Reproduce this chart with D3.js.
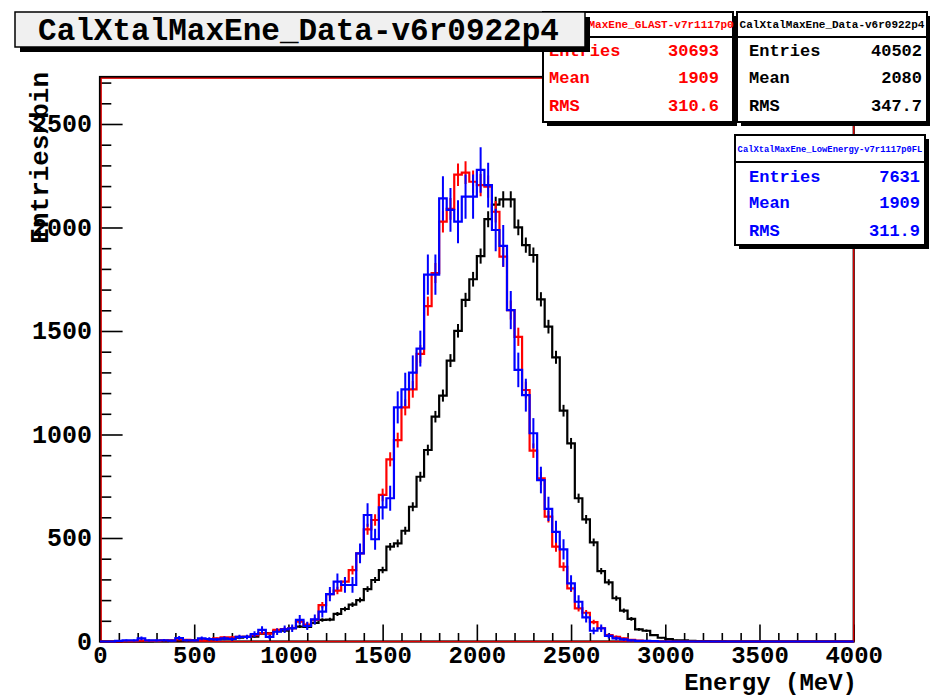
<!DOCTYPE html>
<html><head><meta charset="utf-8">
<script src="https://cdn.jsdelivr.net/npm/d3@7"></script>
<style>
body{margin:0;background:#fff}
svg{display:block}
text{font-family:"Liberation Mono","Courier New",monospace;font-weight:bold}
</style>
</head><body>
<svg id="c" width="930" height="699"></svg>
<script>
// ---- data ----
const binWidth = 40;            // MeV
const xRange = [0, 4000];
const yMax = 2727;
const xMajorTicks = [0,500,1000,1500,2000,2500,3000,3500,4000];
const yMajorTicks = [0,500,1000,1500,2000,2500];
const titleText = "CalXtalMaxEne_Data-v6r0922p4";
const xTitle = "Energy (MeV)";
const yTitle = "Entries/bin";

const blackCounts = [0,0,0,0,1,1,1,2,2,3,
 4,5,6,8,10,12,14,16,18,22,
 24,38,40,50,52,64,72,70,90,104,
 106,133,157,178,200,253,297,345,458,474,
 535,651,796,925,1086,1188,1357,1501,1650,1750,
 1862,2040,2110,2136,2136,2001,1915,1867,1653,1521,
 1373,1115,957,692,590,479,340,286,209,149,
 109,59,52,31,18,12,6,5,3,2,
 2,1,1,0,0,0,0,0,0,0,
 0,0,0,0,0,0,0,0,0,0];
const redCounts = [0,0,0,2,2,4,3,3,5,5,
 10,8,6,8,10,15,20,20,22,22,
 31,40,38,56,60,64,96,82,104,176,
 229,246,289,345,426,542,587,708,880,973,
 1131,1218,1389,1620,1780,2028,2090,2255,2265,2221,
 2205,2197,2076,1859,1601,1472,1215,922,788,603,
 458,361,257,160,139,94,64,31,23,15,
 8,4,2,1,0,0,0,0,0,0,
 0,0,0,0,0,0,0,0,0,0,
 0,0,0,0,0,0,0,0,0,0];
const blueCounts = [0,0,3,5,5,15,5,5,6,4,
 17,6,5,15,12,10,15,12,22,22,
 36,56,22,47,59,64,104,75,107,144,
 229,289,273,273,426,611,494,648,692,1131,
 1218,1299,1415,1772,1772,2141,2085,2028,2149,2149,
 2278,2205,1988,1911,1601,1312,1190,1006,780,641,
 530,445,281,192,117,52,64,27,15,10,
 5,3,3,2,0,0,0,0,0,0,
 0,0,0,0,0,0,0,0,0,0,
 0,0,0,0,0,0,0,0,0,0];
// error-bar variance scale per series (normalisation factors)
const errScale = {black:0.72, red:1.32, blue:5.31};

const statLabels = ["Entries","Mean","RMS"];
const redStats = ["30693","1909","310.6"];
const blackStats = ["40502","2080","347.7"];
const blueStats = ["7631","1909","311.9"];
const redName = "CalXtalMaxEne_GLAST-v7r1117p0";
const blackName = "CalXtalMaxEne_Data-v6r0922p4";
const blueName = "CalXtalMaxEne_LowEnergy-v7r1117p0FL";

// ---- drawing ----
const svg = d3.select("#c");
const L=100, R=853.7, T=77, B=641.5;
const x = d3.scaleLinear().domain(xRange).range([L,R]);
const y = d3.scaleLinear().domain([0,yMax]).range([B,T]);

svg.append("defs").append("clipPath").attr("id","clip")
  .append("rect").attr("x",L-1).attr("y",T).attr("width",R-L+2).attr("height",B-T+2);

// axes ticks
const xMinor = d3.range(0,4001,100).filter(v=>v%500!==0);
const yMinor = d3.range(100,yMax,100).filter(v=>v%500!==0);
const gx = svg.append("g").attr("transform",`translate(0,${B})`)
  .call(d3.axisBottom(x).tickValues(xMajorTicks).tickSize(-17).tickPadding(4).tickFormat(d3.format("d")));
const gxm = svg.append("g").attr("transform",`translate(0,${B})`)
  .call(d3.axisBottom(x).tickValues(xMinor).tickSize(-8.5).tickFormat(""));
const gy = svg.append("g").attr("transform",`translate(${L},0)`)
  .call(d3.axisLeft(y).tickValues(yMajorTicks).tickSize(-22.6).tickPadding(8).tickFormat(d3.format("d")));
const gym = svg.append("g").attr("transform",`translate(${L},0)`)
  .call(d3.axisLeft(y).tickValues(yMinor).tickSize(-11.3).tickFormat(""));
[gx,gxm,gy,gym].forEach(g=>{
  g.select(".domain").remove();
  g.selectAll(".tick line").attr("stroke","#000").attr("stroke-width",1.6);
  g.selectAll("text").attr("fill","#000");
});
gx.selectAll("text").style("font-size","24px");
gy.selectAll("text").style("font-size","25px");

// frame
svg.append("rect").attr("x",L).attr("y",T).attr("width",R-L).attr("height",B-T)
  .attr("fill","none").attr("stroke","#000").attr("stroke-width",2.2);
svg.append("rect").attr("x",L+1.2).attr("y",T+1.2).attr("width",R-L-1.2).attr("height",B-T-1.2)
  .attr("fill","none").attr("stroke","#e00000").attr("stroke-width",1.3);

// histograms
function drawHist(counts,color,es){
  const pts = counts.map((v,i)=>[xRange[0]+i*binWidth, v]);
  pts.push([xRange[0]+counts.length*binWidth, counts[counts.length-1]]);
  const line = d3.line().x(d=>x(d[0])).y(d=>y(d[1])).curve(d3.curveStepAfter);
  const g = svg.append("g").attr("clip-path","url(#clip)");
  g.append("path").attr("d",line(pts)).attr("fill","none")
    .attr("stroke",color).attr("stroke-width",2.2);
  g.selectAll("line.err").data(counts.map((v,i)=>({v,i})).filter(d=>d.v>0))
    .join("line").attr("class","err")
    .attr("x1",d=>x(xRange[0]+(d.i+0.5)*binWidth)).attr("x2",d=>x(xRange[0]+(d.i+0.5)*binWidth))
    .attr("y1",d=>y(d.v-Math.sqrt(d.v*es))).attr("y2",d=>y(d.v+Math.sqrt(d.v*es)))
    .attr("stroke",color).attr("stroke-width",2);
}
drawHist(blackCounts,"#000000",errScale.black);
drawHist(redCounts,"#ff0000",errScale.red);
drawHist(blueCounts,"#0000ff",errScale.blue);

// axis titles
svg.append("text").attr("x",857).attr("y",690).attr("text-anchor","end")
  .style("font-size","24px").text(xTitle);
svg.append("text").attr("transform","translate(48,72) rotate(-90)").attr("text-anchor","end")
  .style("font-size","26px").text(yTitle);

// stats boxes
function statBox(bx,by,w,h,hh,color,name,nameSize,vals,labelX,valX,rowY){
  const g = svg.append("g");
  g.append("rect").attr("x",bx+4).attr("y",by+4).attr("width",w).attr("height",h).attr("fill","#000");
  g.append("rect").attr("x",bx).attr("y",by).attr("width",w).attr("height",h)
    .attr("fill","#fff").attr("stroke","#000").attr("stroke-width",2);
  g.append("line").attr("x1",bx).attr("x2",bx+w).attr("y1",by+hh).attr("y2",by+hh)
    .attr("stroke","#000").attr("stroke-width",2);
  g.append("text").attr("x",bx+w/2).attr("y",by+hh/2+3.5).attr("text-anchor","middle")
    .attr("fill",color).style("font-size",nameSize+"px").text(name);
  statLabels.forEach((lab,i)=>{
    g.append("text").attr("x",labelX).attr("y",rowY[i]).attr("fill",color)
      .style("font-size","17px").text(lab);
    g.append("text").attr("x",valX).attr("y",rowY[i]).attr("text-anchor","end").attr("fill",color)
      .style("font-size","17px").text(vals[i]);
  });
}
statBox(735,135,190,110,27,"#0000ff",blueName,8.8,blueStats,749,920,[182,208,236]);
statBox(737,12,190,110,25,"#000000",blackName,11,blackStats,749,922,[56,83,111]);
statBox(543,12,190,110,25,"#ff0000",redName,11,redStats,549,719,[56,83,111]);

// title box
svg.append("rect").attr("x",20).attr("y",17).attr("width",570).attr("height",35).attr("fill","#000");
svg.append("rect").attr("x",15).attr("y",12).attr("width",570).attr("height",35)
  .attr("fill","#f0f0f0").attr("stroke","#000").attr("stroke-width",1.5);
svg.append("text").attr("x",298.5).attr("y",40).attr("text-anchor","middle")
  .style("font-size","31px").text(titleText);
</script>
</body></html>
